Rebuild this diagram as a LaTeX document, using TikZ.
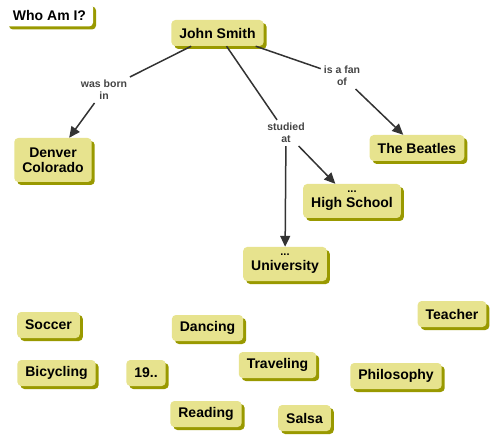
\documentclass[tikz,border=0pt]{standalone}
\usepackage{fontspec}
\setmainfont{Liberation Sans}
\usetikzlibrary{arrows.meta,shadows}
\definecolor{conceptbg}{RGB}{231,227,142}
\definecolor{shadowol}{RGB}{153,153,0}
\definecolor{linkgrey}{RGB}{51,51,51}
\definecolor{lbltext}{RGB}{68,68,68}
\tikzset{
  concept/.style={fill=conceptbg,rounded corners=4pt,align=center,
                  font=\bfseries\fontsize{14}{15}\selectfont,
                  inner xsep=8pt,inner ysep=4pt,minimum height=26pt,
                  drop shadow={shadow xshift=3pt,shadow yshift=-3pt,
                               fill=shadowol,opacity=1}},
  titlebox/.style={concept,fill=white,inner xsep=7pt,minimum height=23pt},
  lbl/.style={font=\bfseries\fontsize{10.5}{12}\selectfont,text=lbltext,
              align=center,inner sep=3pt},
  link/.style={draw=linkgrey,line width=1.5pt},
  linka/.style={link,-{Triangle[length=11pt,width=10pt]}},
}
\newcommand{\dotsrow}{{\fontsize{11}{7}\selectfont ...}}
\begin{document}
\begin{tikzpicture}[x=1pt,y=-1pt]
  \useasboundingbox (0,0) rectangle (491,436);

  \node[titlebox] (who) at (49.5,15) {Who Am I?};
  \node[concept] (john) at (217.5,33) {John Smith};

  \node[concept,minimum height=44pt] (denver) at (53,160) {Denver\\Colorado};
  \node[concept] (beatles) at (417,148) {The Beatles};
  \node[concept,minimum height=34pt] (school) at (352,201)
    {\dotsrow\\High School};
  \node[concept,minimum height=34pt] (univ) at (285,264)
    {\dotsrow\\University};

  % loose concepts, not linked yet
  \node[concept] (soccer)   at (48.5,325)  {Soccer};
  \node[concept] (dancing)  at (207.5,328) {Dancing};
  \node[concept] (teacher)  at (452,314)   {Teacher};
  \node[concept] (bicycle)  at (56.5,373)  {Bicycling};
  \node[concept] (year)     at (146,373)   {19..};
  \node[concept] (travel)   at (277.5,365) {Traveling};
  \node[concept] (philo)    at (396,376)   {Philosophy};
  \node[concept] (reading)  at (206,414)   {Reading};
  \node[concept] (salsa)    at (304.5,418) {Salsa};

  % linking phrases
  \node[lbl] (born)    at (104,90)  {was born\\in};
  \node[lbl] (fan)     at (342,76)  {is a fan\\of};
  \node[lbl] (studied) at (286,133) {studied\\at};

  \draw[link]  (john) -- (born);
  \draw[linka] (born) -- (denver);
  \draw[link]  (john) -- (fan);
  \draw[linka] (fan) -- (beatles);
  \draw[link]  (john) -- (studied);
  \draw[linka] (studied) -- (univ);
  \draw[linka] (studied) -- (school);
\end{tikzpicture}
\end{document}
